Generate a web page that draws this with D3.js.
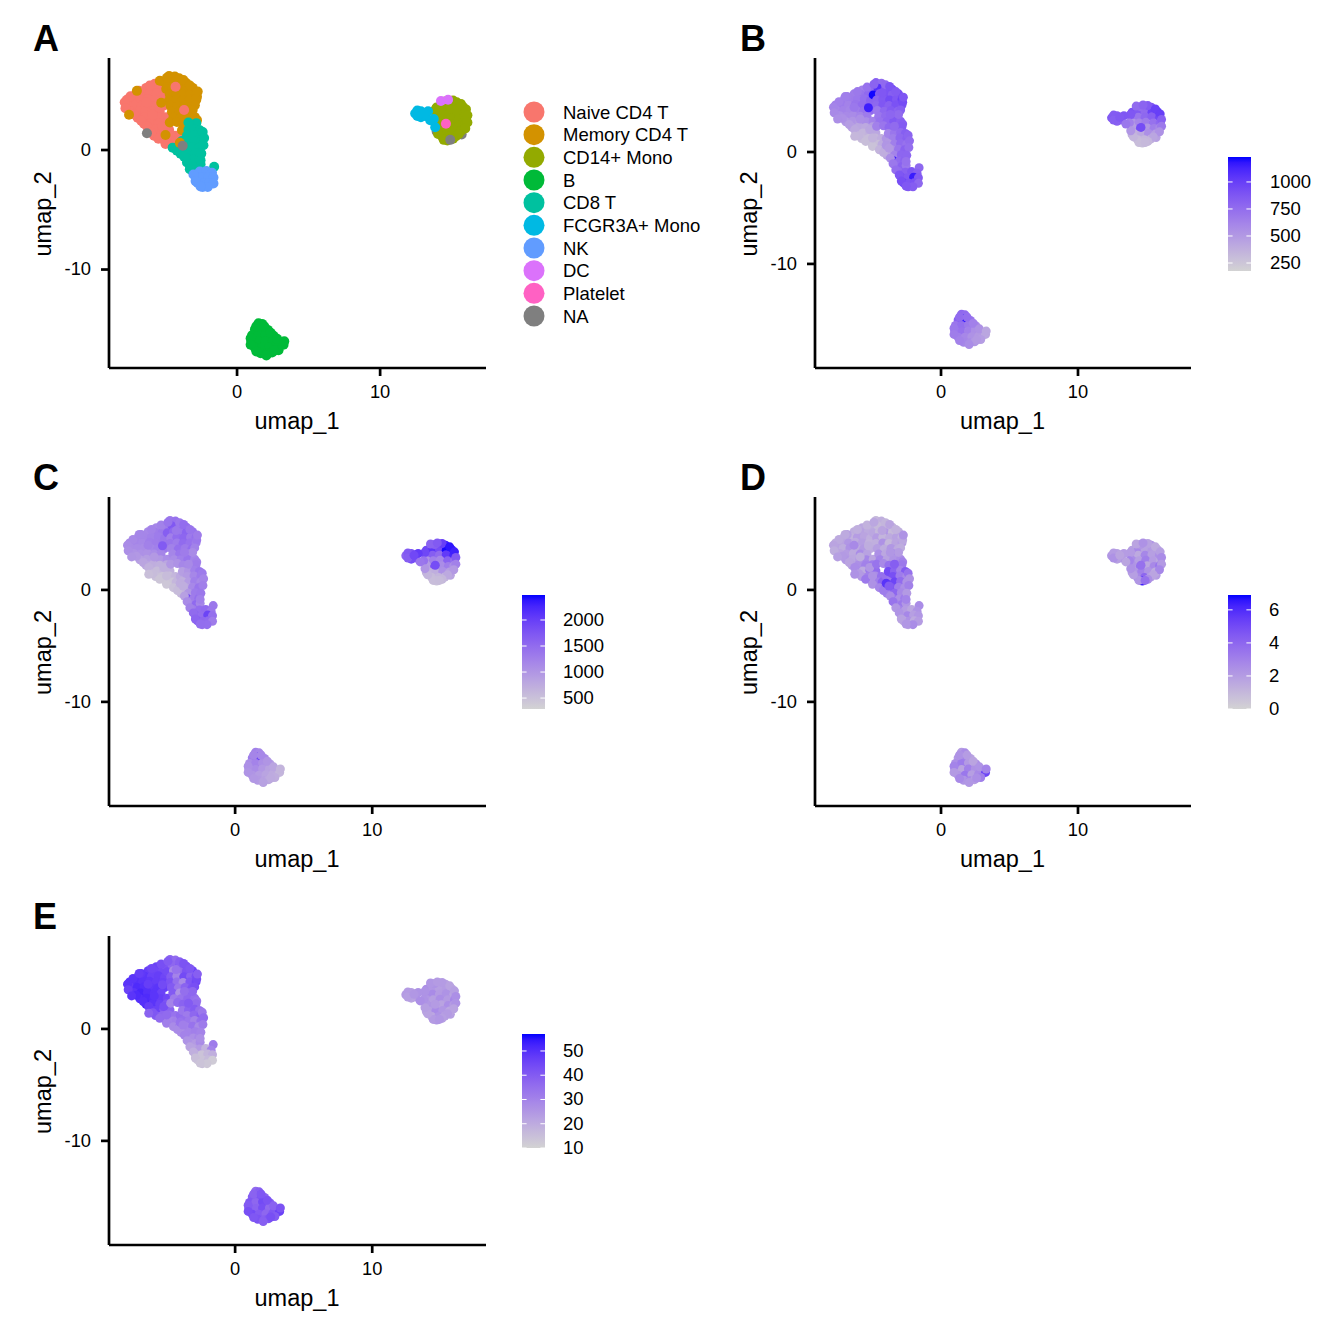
<!DOCTYPE html>
<html><head><meta charset="utf-8">
<script src="https://cdn.jsdelivr.net/npm/d3@7"></script>
<style>
html,body{margin:0;padding:0;background:#fff}
svg{display:block}
text{font-family:"Liberation Sans",Arial,sans-serif;fill:#000}
</style></head><body><svg id="c" width="1344" height="1344"></svg>
<script>
// each cell: [umap_1, umap_2, nFeature, nCount, percentMt, percentRibo]
const naiveCD4T = [
[-5.75,5.55,640,1180,1.6,46],[-6.35,5.2,660,1160,1.4,47],[-5.85,5.15,710,1290,1.8,45],[-5.3,5.2,770,1350,1.5,44],
[-7.05,4.75,620,1120,1.6,48],[-6.6,4.7,670,1200,1.2,49],[-6.1,4.7,690,1240,2.0,46],[-5.6,4.75,740,1310,1.7,47],[-5.15,4.6,810,1380,1.3,45],
[-7.7,4.2,650,1150,1.4,50],[-7.25,4.25,670,1200,1.7,50],[-6.75,4.2,630,1160,2.2,49],[-6.25,4.25,710,1280,1.5,48],[-5.75,4.2,750,1300,1.9,47],[-5.25,4.15,800,1370,1.2,46],
[-7.65,3.75,600,1100,1.8,47],[-7.15,3.7,630,1130,1.4,51],[-6.65,3.75,610,1120,2.4,50],[-6.15,3.7,660,1190,1.6,48],[-5.65,3.65,710,1260,2.1,49],[-5.15,3.7,770,1330,1.5,47],
[-7.4,3.25,570,1040,1.7,49],[-6.9,3.2,590,1060,2.0,52],[-6.4,3.25,580,1050,1.5,50],[-5.9,3.2,620,1110,2.6,49],[-5.4,3.2,670,1200,1.8,46],
[-6.95,2.7,510,880,2.2,50],[-6.45,2.75,530,910,1.6,51],[-5.95,2.7,500,880,2.0,50],[-5.45,2.7,570,990,2.8,47],[-4.95,2.75,630,1110,1.7,45],
[-6.5,2.2,450,760,1.9,52],[-6.0,2.25,430,730,2.5,49],[-5.5,2.2,410,700,3.0,46],[-5.0,2.25,480,800,3.2,42],
[-6.2,1.75,370,610,2.8,44],[-5.7,1.7,340,560,1.5,46],[-5.2,1.75,370,620,3.4,40],[-4.75,1.7,420,700,3.8,38],
[-5.8,1.2,310,500,2.2,40],[-5.3,1.2,300,470,3.0,37],[-4.8,1.25,330,520,2.6,35],[-4.35,1.2,380,620,3.6,34],
[-5.05,0.75,280,440,2.0,33],[-4.55,0.7,290,460,3.1,30],
[-7.45,4.5,640,1150,1.5,49],[-6.85,4.95,660,1190,1.9,48],[-6.1,5.4,680,1220,1.3,45],[-7.85,4.0,620,1120,1.7,49],[-7.8,3.5,590,1080,1.4,46],[-7.2,3.0,550,970,2.1,51],[-6.7,2.45,480,820,1.7,50],[-6.3,2.0,410,680,2.6,47],[-6.0,1.45,340,550,2.1,41],[-5.5,0.95,290,450,3.3,36],[-5.0,0.5,270,430,2.4,31],[-6.35,4.0,690,1250,2.7,47],[-5.9,2.95,560,960,1.4,49],[-5.2,2.0,430,700,2.2,43],[-4.3,0.7,400,620,4.1,31],[-4.0,1.2,520,760,3.6,36]
];
const memoryCD4T = [
[-4.75,6.2,820,1350,1.0,38],[-4.35,6.15,760,1420,1.3,36],
[-5.1,5.7,780,1300,1.4,42],[-4.6,5.7,1080,1720,0.9,37],[-4.05,5.65,880,1500,1.2,41],[-3.55,5.6,960,1460,1.1,43],
[-4.95,5.1,1220,1650,1.6,44],[-4.5,5.2,850,1530,1.0,28],[-4.05,5.1,900,1380,2.2,36],[-3.55,5.15,830,1600,0.9,42],[-3.1,5.2,920,1420,1.4,46],
[-4.7,4.65,800,1270,2.0,40],[-4.25,4.7,860,1490,1.1,30],[-3.75,4.65,940,1560,1.5,44],[-3.25,4.7,870,1330,1.8,38],[-2.85,4.7,990,1450,1.2,43],
[-4.75,4.15,780,1390,1.3,42],[-4.25,4.2,870,1310,2.4,35],[-3.8,4.15,820,1500,1.0,28],[-3.3,4.2,900,1420,1.7,41],[-2.85,4.2,880,1280,2.0,45],
[-4.65,3.7,690,1240,1.9,40],[-5.3,3.95,1150,1700,1.4,44],[-4.15,3.65,780,1450,1.4,33],[-3.65,3.7,850,1330,2.2,38],[-3.15,3.65,800,1480,1.5,42],
[-4.55,3.2,700,1190,2.5,40],[-4.05,3.2,760,1370,1.6,26],[-3.55,3.25,820,1260,2.8,36],[-3.3,3.05,770,1150,3.1,40],
[-4.45,2.7,720,1110,2.9,32],[-3.95,2.7,790,1260,1.8,34],[-3.45,2.75,860,1390,2.3,37],[-2.95,2.75,820,1210,2.6,35],
[-4.7,2.3,640,980,3.5,30],[-4.2,2.35,700,1050,2.7,36],[-3.8,2.2,780,1180,3.6,38],[-3.3,2.25,780,1110,3.8,34],[-3.85,1.65,620,890,5.0,33],
[-5.4,5.8,720,1240,1.2,43],[-4.9,6.05,800,1390,1.6,40],[-4.05,6.0,770,1360,1.1,39],[-3.75,5.85,890,1480,1.7,42],[-3.3,5.4,850,1390,1.2,41],[-2.8,4.45,930,1360,1.6,44],[-2.75,4.9,880,1300,2.3,39],[-2.95,3.75,830,1240,1.4,43],[-3.1,3.35,760,1130,2.0,37],[-2.8,2.5,840,1270,3.0,34]
];
const cd8T = [
[-2.85,2.25,850,1300,3.3,36],
[-3.4,1.7,700,1010,4.1,38],[-2.95,1.75,760,1260,2.9,40],[-2.6,1.65,830,1380,4.4,35],
[-3.5,1.2,650,940,4.8,32],[-3.0,1.25,780,1180,3.2,37],[-2.5,1.2,820,1330,2.7,39],
[-3.85,0.75,500,700,3.4,35],[-3.4,0.7,650,920,5.2,33],[-2.95,0.75,760,1260,3.8,30],[-2.5,0.7,720,1140,2.4,35],
[-4.5,0.2,350,500,2.8,28],[-4.05,0.25,400,600,3.6,32],[-3.6,0.2,540,780,4.6,30],[-3.1,0.25,700,1160,3.1,34],[-2.65,0.2,810,1390,2.5,28],
[-3.95,-0.3,430,610,3.0,27],[-3.4,-0.3,620,1000,4.0,30],[-2.9,-0.25,790,1320,2.7,31],
[-3.5,-0.75,1160,1900,3.6,30],[-3.05,-0.8,760,1300,2.5,27],[-2.65,-0.75,800,1440,3.2,29],
[-3.3,-1.25,740,1260,2.6,25],[-2.85,-1.3,810,1520,3.3,24],[-2.55,-1.2,690,1180,2.2,28],
[-1.6,-1.4,780,1350,2.6,32],[-3.1,-1.75,760,1290,2.9,22],
[-2.4,1.5,800,1320,3.6,33],[-2.3,1.0,760,1210,2.4,36],[-2.35,0.4,740,1270,3.0,32],[-2.5,-0.3,790,1350,2.1,30],[-2.55,-0.85,720,1260,2.9,27],[-4.2,-0.05,380,560,3.2,28],[-3.7,-0.55,560,880,2.6,30],[-3.5,-1.05,690,1130,3.5,26],[-3.3,-1.6,750,1240,2.2,22]
];
const nkCells = [
[-2.6,-1.8,820,1480,2.0,24],[-2.15,-1.75,880,1510,1.6,18],[-1.75,-1.9,820,1360,2.4,30],
[-2.9,-2.25,930,1630,1.7,20],[-2.45,-2.3,860,1480,2.8,14],[-2.0,-2.25,1160,1950,1.9,17],[-1.65,-2.3,850,1440,2.2,19],
[-2.75,-2.75,980,1680,1.4,13],[-2.35,-2.8,890,1550,2.4,14],[-1.95,-2.75,900,1520,1.5,16],[-1.65,-2.8,780,1300,2.0,12],
[-2.4,-3.1,860,1420,1.8,15],[-2.05,-3.1,840,1460,2.6,13],
[-3.05,-2.05,880,1500,2.3,19],[-2.9,-2.6,920,1580,1.8,15],[-2.55,-3.05,870,1470,2.2,14]
];
const naUnder = [[15.7,1.3,450,820,2.0,23],[13.95,1.55,380,700,2.1,22]];
const dcUnder = [[1.45,-14.65,800,1300,2.2,37]];
const fcgr3aMono = [
[12.45,3.05,860,1580,2.2,24],[12.85,3.25,840,1780,1.8,23],[13.15,2.85,800,1650,2.6,25],[12.85,2.75,820,1850,1.9,22],
[13.35,3.25,880,2050,2.0,26],[13.75,2.6,640,1420,2.9,26],[13.85,1.9,520,1010,2.4,23],[13.5,2.5,690,1360,1.7,27],
[12.6,3.3,850,1700,2.0,24],[12.6,2.85,830,1650,2.4,23],[13.05,3.1,860,1900,1.7,25]
];
const cd14Mono = [
[14.3,4.0,720,1500,2.0,26],[14.85,4.1,780,1750,1.6,24],[15.35,4.0,880,2300,2.3,22],
[13.95,3.55,900,1900,1.9,27],[14.4,3.6,860,2100,2.7,25],[14.9,3.6,760,1850,1.8,23],[15.4,3.55,980,2450,2.1,24],[15.8,3.6,1060,2400,1.7,21],
[13.9,3.1,840,1980,2.4,27],[14.4,3.1,700,1650,1.5,28],[14.9,3.1,780,1500,2.8,24],[15.4,3.15,820,2050,1.9,26],[15.95,3.1,940,2250,2.5,22],
[14.0,2.6,520,1050,2.6,25],[14.45,2.6,600,1260,1.9,23],[14.95,2.65,660,1180,3.1,27],[15.5,2.6,720,1600,2.0,24],[16.0,2.6,780,1440,1.6,29],
[14.0,2.1,430,820,1.8,26],[14.55,2.1,900,1720,3.5,25],[15.05,2.15,520,1110,1.6,22],[15.55,2.1,650,1280,2.7,27],[15.95,2.15,600,1080,3.4,24],
[14.15,1.6,370,680,2.2,23],[14.65,1.6,410,720,3.0,28],[15.15,1.65,560,1060,2.3,25],[15.65,1.6,480,900,1.4,21],
[14.35,1.1,310,560,2.7,21],[14.85,1.1,340,620,4.0,26],[15.3,1.15,370,640,1.9,23],[14.7,0.8,290,500,6.4,25],
[15.1,4.15,850,2000,1.8,24],[14.55,4.05,750,1640,2.2,26],[15.65,3.85,990,2380,1.5,22],[16.0,3.4,1000,2300,1.9,23],[16.1,2.9,820,1700,2.6,27],[16.1,2.3,680,1250,2.1,26],[15.95,1.8,540,960,2.8,22],[15.5,1.35,430,780,1.7,24],[15.1,0.95,330,600,2.5,23],[14.45,0.85,300,540,2.2,24],[14.05,1.35,340,640,1.9,22],[13.9,2.3,480,930,2.3,25],[13.85,3.35,870,1920,2.0,26]
];
const bCells = [
[1.5,-14.5,780,1250,2.0,36],[1.75,-14.55,760,1180,2.6,39],
[1.25,-15.0,820,1320,2.2,40],[1.7,-14.9,1180,1950,2.9,42],[2.15,-15.05,720,1150,1.8,38],
[1.05,-15.5,700,1100,2.5,41],[1.5,-15.5,740,1220,3.2,37],[2.0,-15.45,680,1080,2.1,44],[2.55,-15.55,600,950,2.6,40],
[1.0,-16.0,680,1040,2.8,42],[1.5,-16.05,720,1120,1.7,38],[2.0,-16.0,640,980,3.0,43],[2.5,-16.0,560,860,2.4,36],[3.0,-16.1,470,700,2.1,39],
[1.25,-16.55,650,1000,2.2,44],[1.75,-16.55,600,920,3.4,40],[2.25,-16.5,540,840,1.9,37],[2.75,-16.45,500,760,2.7,41],[3.25,-16.3,420,620,5.2,46],
[1.65,-17.0,610,950,2.3,42],[2.1,-17.05,580,880,2.8,39],[2.45,-16.95,520,800,2.0,41],
[1.35,-14.75,760,1200,2.4,38],[1.9,-14.75,740,1160,2.0,41],[0.95,-15.75,690,1070,2.9,40],[2.35,-15.3,640,1010,1.7,42],[2.8,-15.8,540,820,2.3,38],[3.3,-16.0,430,650,2.9,42],[0.95,-16.3,660,1020,2.1,43],[1.35,-16.85,630,970,2.7,41],[2.05,-17.2,570,870,2.2,39],[2.9,-16.75,480,730,3.1,40],[2.6,-16.8,500,770,2.5,43]
];
// scattered cells whose label differs from their neighbours
const strayMemory = [[-7.0,4.95,650,1190,1.5,47],[-7.55,2.95,560,1000,1.9,49],[-5.0,1.25,350,560,2.4,36],[-4.0,0.6,520,730,5.8,34]];
const strayNaive = [[-4.3,5.3,870,1350,1.7,34],[-3.7,3.35,790,1300,2.2,35]];
const strayCD8 = [[-3.4,2.3,760,1140,4.3,40]];
const dcCells = [[14.25,4.1,760,1600,1.7,25],[14.75,4.2,800,1700,2.4,24]];
const plateletCells = [[14.6,2.2,930,1850,3.6,24]];
const naCells = [[-6.3,1.4,330,520,2.4,38],[-3.8,0.35,500,720,4.4,31],[14.9,0.85,320,560,3.6,25]];

const cellGroups = [naiveCD4T, memoryCD4T, cd8T, nkCells, naUnder, dcUnder, cd14Mono, fcgr3aMono, bCells, strayMemory, strayNaive, strayCD8, dcCells, plateletCells, naCells];
const groupLabels = ["Naive CD4 T","Memory CD4 T","CD8 T","NK","NA","DC","CD14+ Mono","FCGR3A+ Mono","B","Memory CD4 T","Naive CD4 T","CD8 T","DC","Platelet","NA"];
const legendLabels = ["Naive CD4 T","Memory CD4 T","CD14+ Mono","B","CD8 T","FCGR3A+ Mono","NK","DC","Platelet","NA"];
const legendColors = ["#F8766D","#D39200","#93AA00","#00BA38","#00C19F","#00B9E3","#619CFF","#DB72FB","#FF61C3","#7F7F7F"];
const tags = ["A","B","C","D","E"];
const xTicks = [0,10];
const yTicks = [0,-10];
const featureBreaks = [250,500,750,1000];
const countBreaks = [500,1000,1500,2000];
const mtBreaks = [0,2,4,6];
const riboBreaks = [10,20,30,40,50];
const featureRange = [176,1231];
const countRange = [290,2480];
const mtRange = [0,6.9];
const riboRange = [10,57];

const cells = cellGroups.flatMap((g,i)=>g.map(d=>({u:d[0],v:d[1],label:groupLabels[i],vals:d.slice(2)})));
const svg = d3.select("#c");
const defs = svg.append("defs");
const low="#D3D3D3", high="#0000FF";
const colorMix = d3.interpolateLab(low,high);
const grad = defs.append("linearGradient").attr("id","bar").attr("x1",0).attr("x2",0).attr("y1",1).attr("y2",0);
d3.range(0,21).forEach(i=>grad.append("stop").attr("offset",i/20).attr("stop-color",colorMix(i/20)));

const layout = [
 {tag:0,l:109,r:486,t:58,b:368,xd:[-8.95,17.4],yd:[-18.24,7.7],tx:33,ty:51,pr:5},
 {tag:1,l:815,r:1191,t:58,b:368,xd:[-9.2,18.25],yd:[-19.3,8.4],tx:740,ty:51,pr:4.5,idx:0,range:featureRange,breaks:featureBreaks,bx:1228,by:157,lx:1270},
 {tag:2,l:109,r:486,t:497,b:806,xd:[-9.2,18.3],yd:[-19.3,8.3],tx:33,ty:490,pr:4.5,idx:1,range:countRange,breaks:countBreaks,bx:522,by:595,lx:563},
 {tag:3,l:815,r:1191,t:497,b:806,xd:[-9.2,18.25],yd:[-19.3,8.3],tx:740,ty:490,pr:4.5,idx:2,range:mtRange,breaks:mtBreaks,bx:1228,by:595,lx:1269},
 {tag:4,l:109,r:486,t:936,b:1245,xd:[-9.2,18.3],yd:[-19.3,8.3],tx:33,ty:929,pr:4.5,idx:3,range:riboRange,breaks:riboBreaks,bx:522,by:1034,lx:563}
];
const labelColor = new Map(legendLabels.map((l,i)=>[l,legendColors[i]]));

layout.forEach(p=>{
  const x=d3.scaleLinear().domain(p.xd).range([p.l,p.r]);
  const y=d3.scaleLinear().domain(p.yd).range([p.b,p.t]);
  const g=svg.append("g");
  const color = p.idx===undefined ? null : d3.scaleLinear().domain(p.range).range([0,1]).clamp(true);
  g.selectAll("circle").data(cells).join("circle")
    .attr("cx",d=>x(d.u)).attr("cy",d=>y(d.v)).attr("r",p.pr)
    .attr("fill",d=>color?colorMix(color(d.vals[p.idx])):labelColor.get(d.label));

  const ax=g.append("g").attr("transform",`translate(0,${p.b})`)
    .call(d3.axisBottom(x).offset(0).tickValues(xTicks).tickFormat(d=>String(d)).tickSize(8).tickPadding(9).tickSizeOuter(0));
  const ay=g.append("g").attr("transform",`translate(${p.l},0)`)
    .call(d3.axisLeft(y).offset(0).tickValues(yTicks).tickFormat(d=>String(d)).tickSize(8).tickPadding(10).tickSizeOuter(0));
  [ax,ay].forEach(a=>{
    a.selectAll("path,line").attr("stroke","#000").attr("stroke-width",2.7);
    a.selectAll("text").attr("font-size",18.3).attr("font-family",'"Liberation Sans"').attr("fill","#000");
  });
  g.append("text").attr("x",(p.l+p.r)/2-0.5).attr("y",p.b+61).attr("text-anchor","middle").attr("font-size",23.5).text("umap_1");
  g.append("text").attr("transform",`translate(${p.l-58},${(p.t+p.b)/2+1}) rotate(-90)`).attr("text-anchor","middle").attr("font-size",23.5).text("umap_2");
  g.append("text").attr("x",p.tx).attr("y",p.ty).attr("font-size",36).attr("font-weight","bold").text(tags[p.tag]);

  if(color){
    const bw=23, bh=114;
    const by=d3.scaleLinear().domain(p.range).range([p.by+bh,p.by]);
    g.append("rect").attr("x",p.bx).attr("y",p.by).attr("width",bw).attr("height",bh).attr("fill","url(#bar)");
    p.breaks.forEach(b=>{
      const yy=by(b);
      g.append("line").attr("x1",p.bx).attr("x2",p.bx+bw/5).attr("y1",yy).attr("y2",yy).attr("stroke","#fff").attr("stroke-width",1);
      g.append("line").attr("x1",p.bx+bw-bw/5).attr("x2",p.bx+bw).attr("y1",yy).attr("y2",yy).attr("stroke","#fff").attr("stroke-width",1);
      g.append("text").attr("x",p.lx).attr("y",yy).attr("dy","0.32em").attr("font-size",18.5).text(b);
    });
  }
});

// categorical legend of panel A
const ly=d3.scalePoint().domain(legendLabels).range([112,316]);
const lg=svg.append("g");
lg.selectAll("circle").data(legendLabels).join("circle").attr("cx",534).attr("cy",d=>ly(d)).attr("r",10.5).attr("fill",(d,i)=>legendColors[i]);
lg.selectAll("text").data(legendLabels).join("text").attr("x",563).attr("y",d=>ly(d)).attr("dy","0.36em").attr("font-size",18.5).text(d=>d);
</script></body></html>
